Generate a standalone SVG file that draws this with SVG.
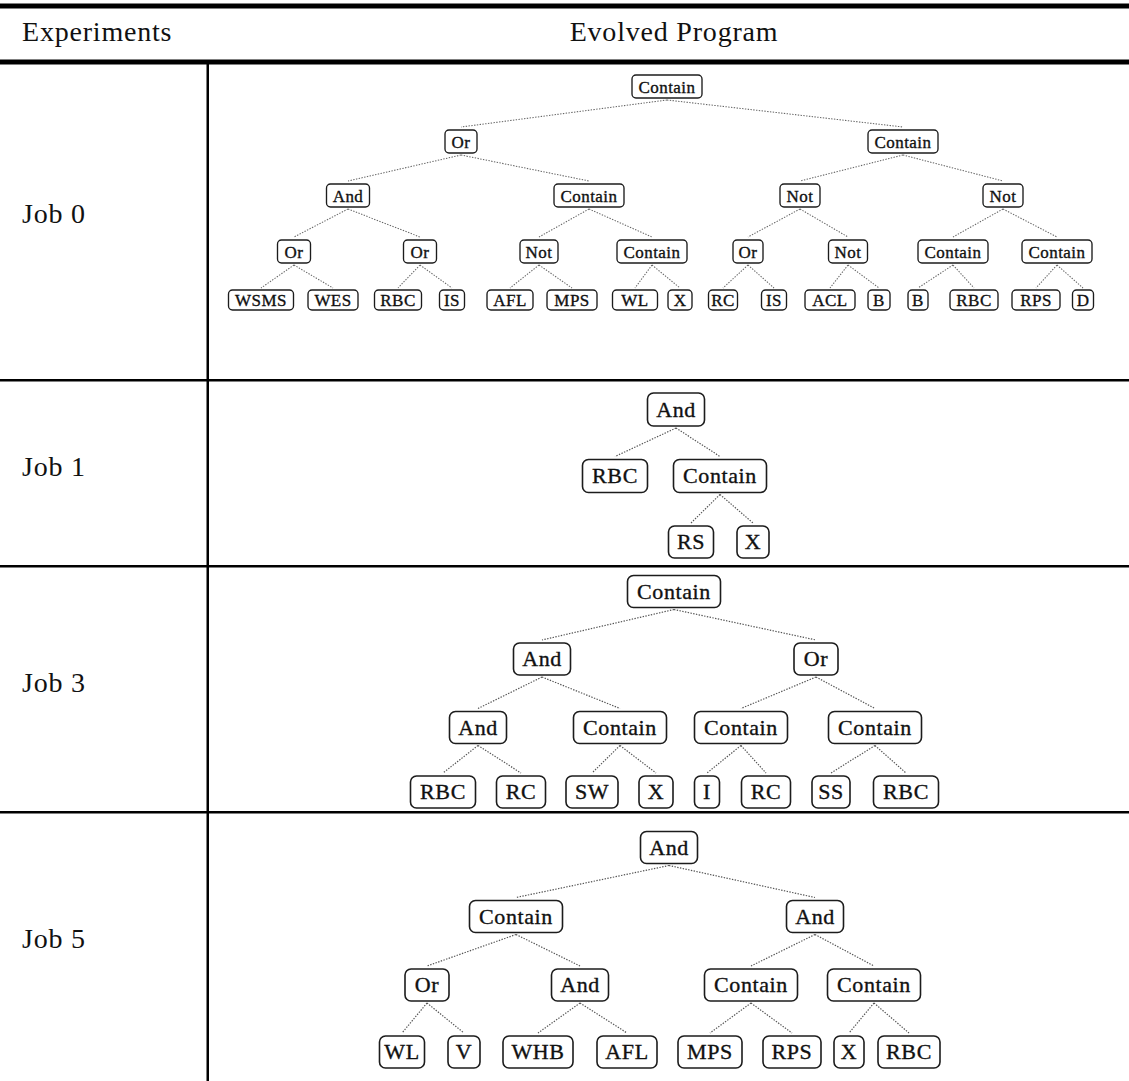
<svg xmlns="http://www.w3.org/2000/svg" width="1129" height="1081" viewBox="0 0 1129 1081">
  <style>
    .bg { fill: #fff; }
    .rule { fill: #000; }
    .hdr { font-family: "Liberation Serif", serif; font-size: 28px; letter-spacing: 0.8px; fill: #111; }
    .n rect { fill: #fff; stroke: #1c1c1c; stroke-width: 1.6; }
    .n text { font-family: "Liberation Serif", serif; text-anchor: middle; fill: #111; stroke: #111; stroke-width: 0.35; }
    .s rect { stroke-width: 1.35; }
    .s text { font-size: 17px; letter-spacing: 0.45px; }
    .b text { font-size: 22px; letter-spacing: 0.6px; }
    .e line { stroke: #555; stroke-width: 1.2; stroke-dasharray: 1.4 1.4; fill: none; }
    .e.s0 line { stroke: #666; stroke-width: 1.05; }
  </style>
  <rect class="bg" x="0" y="0" width="1129" height="1081"/>

  <!-- table rules -->
  <g id="table">
    <rect class="rule" x="0" y="3.5" width="1129" height="5"/>
    <rect class="rule" x="0" y="59.5" width="1129" height="5"/>
    <rect class="rule" x="206.5" y="64" width="2.5" height="1017"/>
    <rect class="rule" x="0" y="379" width="1129" height="2.5"/>
    <rect class="rule" x="0" y="565" width="1129" height="2.5"/>
    <rect class="rule" x="0" y="811" width="1129" height="2.5"/>
  </g>

  <!-- headings and row labels -->
  <g id="labels">
    <text class="hdr" x="22" y="41">Experiments</text>
    <text class="hdr" x="674" y="41" text-anchor="middle">Evolved Program</text>
    <text class="hdr" x="22" y="223">Job 0</text>
    <text class="hdr" x="22" y="476">Job 1</text>
    <text class="hdr" x="22" y="692">Job 3</text>
    <text class="hdr" x="22" y="948">Job 5</text>
  </g>

  <!-- connectors -->
  <g id="connectors">
    <g class="e s0">
      <line x1="667" y1="100" x2="461" y2="127"/>
      <line x1="667" y1="100" x2="903" y2="127"/>
      <line x1="461" y1="155" x2="348" y2="181"/>
      <line x1="461" y1="155" x2="589" y2="181"/>
      <line x1="903" y1="155" x2="800" y2="181"/>
      <line x1="903" y1="155" x2="1003" y2="181"/>
      <line x1="348" y1="209" x2="294" y2="237"/>
      <line x1="348" y1="209" x2="420" y2="237"/>
      <line x1="589" y1="209" x2="539" y2="237"/>
      <line x1="589" y1="209" x2="652" y2="237"/>
      <line x1="800" y1="209" x2="748" y2="237"/>
      <line x1="800" y1="209" x2="848" y2="237"/>
      <line x1="1003" y1="209" x2="953" y2="237"/>
      <line x1="1003" y1="209" x2="1057" y2="237"/>
      <line x1="294" y1="265" x2="261" y2="288"/>
      <line x1="294" y1="265" x2="333" y2="288"/>
      <line x1="420" y1="265" x2="398" y2="288"/>
      <line x1="420" y1="265" x2="452" y2="288"/>
      <line x1="539" y1="265" x2="510" y2="288"/>
      <line x1="539" y1="265" x2="572" y2="288"/>
      <line x1="652" y1="265" x2="635" y2="288"/>
      <line x1="652" y1="265" x2="680" y2="288"/>
      <line x1="748" y1="265" x2="723" y2="288"/>
      <line x1="748" y1="265" x2="774" y2="288"/>
      <line x1="848" y1="265" x2="830" y2="288"/>
      <line x1="848" y1="265" x2="879" y2="288"/>
      <line x1="953" y1="265" x2="918" y2="288"/>
      <line x1="953" y1="265" x2="974" y2="288"/>
      <line x1="1057" y1="265" x2="1036" y2="288"/>
      <line x1="1057" y1="265" x2="1083" y2="288"/>
    </g>
    <g class="e">
      <line x1="676" y1="428" x2="615" y2="456.5"/>
      <line x1="676" y1="428" x2="720" y2="456.5"/>
      <line x1="720" y1="494.5" x2="691" y2="523"/>
      <line x1="720" y1="494.5" x2="753" y2="523"/>

      <line x1="674" y1="609.5" x2="542" y2="640"/>
      <line x1="674" y1="609.5" x2="816" y2="640"/>
      <line x1="542" y1="677" x2="478" y2="708.5"/>
      <line x1="542" y1="677" x2="620" y2="708.5"/>
      <line x1="816" y1="677" x2="741" y2="708.5"/>
      <line x1="816" y1="677" x2="875" y2="708.5"/>
      <line x1="478" y1="745.5" x2="443" y2="773"/>
      <line x1="478" y1="745.5" x2="521" y2="773"/>
      <line x1="620" y1="745.5" x2="592" y2="773"/>
      <line x1="620" y1="745.5" x2="656" y2="773"/>
      <line x1="741" y1="745.5" x2="707" y2="773"/>
      <line x1="741" y1="745.5" x2="766" y2="773"/>
      <line x1="875" y1="745.5" x2="831" y2="773"/>
      <line x1="875" y1="745.5" x2="906" y2="773"/>

      <line x1="669" y1="865.5" x2="516" y2="897.5"/>
      <line x1="669" y1="865.5" x2="815" y2="897.5"/>
      <line x1="516" y1="934.5" x2="427" y2="966"/>
      <line x1="516" y1="934.5" x2="580" y2="966"/>
      <line x1="815" y1="934.5" x2="751" y2="966"/>
      <line x1="815" y1="934.5" x2="874" y2="966"/>
      <line x1="427" y1="1003" x2="402" y2="1033"/>
      <line x1="427" y1="1003" x2="464" y2="1033"/>
      <line x1="580" y1="1003" x2="538" y2="1033"/>
      <line x1="580" y1="1003" x2="627" y2="1033"/>
      <line x1="751" y1="1003" x2="710" y2="1033"/>
      <line x1="751" y1="1003" x2="792" y2="1033"/>
      <line x1="874" y1="1003" x2="849" y2="1033"/>
      <line x1="874" y1="1003" x2="909" y2="1033"/>
    </g>
  </g>

  <!-- Job 0 tree -->
  <g id="job0">
    <g id="j0-contain-root" class="n s"><rect x="632" y="75" width="70" height="23" rx="4"/><text x="667" y="92.5">Contain</text></g>
    <g id="j0-or-1" class="n s"><rect x="445" y="130" width="32" height="23" rx="4"/><text x="461" y="147.5">Or</text></g>
    <g id="j0-contain-1" class="n s"><rect x="868" y="130" width="70" height="23" rx="4"/><text x="903" y="147.5">Contain</text></g>
    <g id="j0-and-2" class="n s"><rect x="326.5" y="184" width="43" height="23" rx="4"/><text x="348" y="201.5">And</text></g>
    <g id="j0-contain-2" class="n s"><rect x="554" y="184" width="70" height="23" rx="4"/><text x="589" y="201.5">Contain</text></g>
    <g id="j0-not-2a" class="n s"><rect x="780" y="184" width="40" height="23" rx="4"/><text x="800" y="201.5">Not</text></g>
    <g id="j0-not-2b" class="n s"><rect x="983" y="184" width="40" height="23" rx="4"/><text x="1003" y="201.5">Not</text></g>
    <g id="j0-or-3a" class="n s"><rect x="277.5" y="240" width="33" height="23" rx="4"/><text x="294" y="257.5">Or</text></g>
    <g id="j0-or-3b" class="n s"><rect x="403.5" y="240" width="33" height="23" rx="4"/><text x="420" y="257.5">Or</text></g>
    <g id="j0-not-3a" class="n s"><rect x="520" y="240" width="38" height="23" rx="4"/><text x="539" y="257.5">Not</text></g>
    <g id="j0-contain-3a" class="n s"><rect x="617" y="240" width="70" height="23" rx="4"/><text x="652" y="257.5">Contain</text></g>
    <g id="j0-or-3c" class="n s"><rect x="733" y="240" width="30" height="23" rx="4"/><text x="748" y="257.5">Or</text></g>
    <g id="j0-not-3b" class="n s"><rect x="828.5" y="240" width="39" height="23" rx="4"/><text x="848" y="257.5">Not</text></g>
    <g id="j0-contain-3b" class="n s"><rect x="918" y="240" width="70" height="23" rx="4"/><text x="953" y="257.5">Contain</text></g>
    <g id="j0-contain-3c" class="n s"><rect x="1022" y="240" width="70" height="23" rx="4"/><text x="1057" y="257.5">Contain</text></g>
    <g id="j0-wsms" class="n s"><rect x="228.5" y="290" width="65" height="20" rx="4"/><text x="261" y="305.5">WSMS</text></g>
    <g id="j0-wes" class="n s"><rect x="308" y="290" width="50" height="20" rx="4"/><text x="333" y="305.5">WES</text></g>
    <g id="j0-rbc-a" class="n s"><rect x="374.5" y="290" width="47" height="20" rx="4"/><text x="398" y="305.5">RBC</text></g>
    <g id="j0-is-a" class="n s"><rect x="439.5" y="290" width="25" height="20" rx="4"/><text x="452" y="305.5">IS</text></g>
    <g id="j0-afl" class="n s"><rect x="487" y="290" width="46" height="20" rx="4"/><text x="510" y="305.5">AFL</text></g>
    <g id="j0-mps" class="n s"><rect x="547" y="290" width="50" height="20" rx="4"/><text x="572" y="305.5">MPS</text></g>
    <g id="j0-wl" class="n s"><rect x="612.5" y="290" width="45" height="20" rx="4"/><text x="635" y="305.5">WL</text></g>
    <g id="j0-x" class="n s"><rect x="668" y="290" width="24" height="20" rx="4"/><text x="680" y="305.5">X</text></g>
    <g id="j0-rc" class="n s"><rect x="708.5" y="290" width="29" height="20" rx="4"/><text x="723" y="305.5">RC</text></g>
    <g id="j0-is-b" class="n s"><rect x="761.5" y="290" width="25" height="20" rx="4"/><text x="774" y="305.5">IS</text></g>
    <g id="j0-acl" class="n s"><rect x="805" y="290" width="50" height="20" rx="4"/><text x="830" y="305.5">ACL</text></g>
    <g id="j0-b-a" class="n s"><rect x="868" y="290" width="22" height="20" rx="4"/><text x="879" y="305.5">B</text></g>
    <g id="j0-b-b" class="n s"><rect x="908" y="290" width="20" height="20" rx="4"/><text x="918" y="305.5">B</text></g>
    <g id="j0-rbc-b" class="n s"><rect x="950" y="290" width="48" height="20" rx="4"/><text x="974" y="305.5">RBC</text></g>
    <g id="j0-rps" class="n s"><rect x="1012" y="290" width="48" height="20" rx="4"/><text x="1036" y="305.5">RPS</text></g>
    <g id="j0-d" class="n s"><rect x="1072.5" y="290" width="21" height="20" rx="4"/><text x="1083" y="305.5">D</text></g>
  </g>

  <!-- Job 1 tree -->
  <g id="job1">
    <g id="j1-and" class="n b"><rect x="647.5" y="393" width="57" height="33" rx="6"/><text x="676" y="416.8">And</text></g>
    <g id="j1-rbc" class="n b"><rect x="582.5" y="459.5" width="65" height="33" rx="6"/><text x="615" y="483.3">RBC</text></g>
    <g id="j1-contain" class="n b"><rect x="673.5" y="459.5" width="93" height="33" rx="6"/><text x="720" y="483.3">Contain</text></g>
    <g id="j1-rs" class="n b"><rect x="668.5" y="526" width="45" height="32" rx="6"/><text x="691" y="549.3">RS</text></g>
    <g id="j1-x" class="n b"><rect x="737" y="526" width="32" height="32" rx="6"/><text x="753" y="549.3">X</text></g>
  </g>

  <!-- Job 3 tree -->
  <g id="job3">
    <g id="j3-contain-root" class="n b"><rect x="627.5" y="575.5" width="93" height="32" rx="6"/><text x="674" y="598.8">Contain</text></g>
    <g id="j3-and-1" class="n b"><rect x="513.5" y="643" width="57" height="32" rx="6"/><text x="542" y="666.3">And</text></g>
    <g id="j3-or-1" class="n b"><rect x="794" y="643" width="44" height="32" rx="6"/><text x="816" y="666.3">Or</text></g>
    <g id="j3-and-2" class="n b"><rect x="449.5" y="711.5" width="57" height="32" rx="6"/><text x="478" y="734.8">And</text></g>
    <g id="j3-contain-2a" class="n b"><rect x="573.5" y="711.5" width="93" height="32" rx="6"/><text x="620" y="734.8">Contain</text></g>
    <g id="j3-contain-2b" class="n b"><rect x="694.5" y="711.5" width="93" height="32" rx="6"/><text x="741" y="734.8">Contain</text></g>
    <g id="j3-contain-2c" class="n b"><rect x="828.5" y="711.5" width="93" height="32" rx="6"/><text x="875" y="734.8">Contain</text></g>
    <g id="j3-rbc-a" class="n b"><rect x="410.5" y="776" width="65" height="32" rx="6"/><text x="443" y="799.3">RBC</text></g>
    <g id="j3-rc-a" class="n b"><rect x="496.5" y="776" width="49" height="32" rx="6"/><text x="521" y="799.3">RC</text></g>
    <g id="j3-sw" class="n b"><rect x="566" y="776" width="52" height="32" rx="6"/><text x="592" y="799.3">SW</text></g>
    <g id="j3-x" class="n b"><rect x="639" y="776" width="34" height="32" rx="6"/><text x="656" y="799.3">X</text></g>
    <g id="j3-i" class="n b"><rect x="694.5" y="776" width="25" height="32" rx="6"/><text x="707" y="799.3">I</text></g>
    <g id="j3-rc-b" class="n b"><rect x="741.5" y="776" width="49" height="32" rx="6"/><text x="766" y="799.3">RC</text></g>
    <g id="j3-ss" class="n b"><rect x="812" y="776" width="38" height="32" rx="6"/><text x="831" y="799.3">SS</text></g>
    <g id="j3-rbc-b" class="n b"><rect x="873.5" y="776" width="65" height="32" rx="6"/><text x="906" y="799.3">RBC</text></g>
  </g>

  <!-- Job 5 tree -->
  <g id="job5">
    <g id="j5-and-root" class="n b"><rect x="640.5" y="831.5" width="57" height="32" rx="6"/><text x="669" y="854.8">And</text></g>
    <g id="j5-contain-1" class="n b"><rect x="469.5" y="900.5" width="93" height="32" rx="6"/><text x="516" y="923.8">Contain</text></g>
    <g id="j5-and-1" class="n b"><rect x="786.5" y="900.5" width="57" height="32" rx="6"/><text x="815" y="923.8">And</text></g>
    <g id="j5-or-2" class="n b"><rect x="405" y="969" width="44" height="32" rx="6"/><text x="427" y="992.3">Or</text></g>
    <g id="j5-and-2" class="n b"><rect x="551.5" y="969" width="57" height="32" rx="6"/><text x="580" y="992.3">And</text></g>
    <g id="j5-contain-2a" class="n b"><rect x="704.5" y="969" width="93" height="32" rx="6"/><text x="751" y="992.3">Contain</text></g>
    <g id="j5-contain-2b" class="n b"><rect x="827.5" y="969" width="93" height="32" rx="6"/><text x="874" y="992.3">Contain</text></g>
    <g id="j5-wl" class="n b"><rect x="379.5" y="1036" width="45" height="32" rx="6"/><text x="402" y="1059.3">WL</text></g>
    <g id="j5-v" class="n b"><rect x="448" y="1036" width="32" height="32" rx="6"/><text x="464" y="1059.3">V</text></g>
    <g id="j5-whb" class="n b"><rect x="503" y="1036" width="70" height="32" rx="6"/><text x="538" y="1059.3">WHB</text></g>
    <g id="j5-afl" class="n b"><rect x="597" y="1036" width="60" height="32" rx="6"/><text x="627" y="1059.3">AFL</text></g>
    <g id="j5-mps" class="n b"><rect x="678" y="1036" width="64" height="32" rx="6"/><text x="710" y="1059.3">MPS</text></g>
    <g id="j5-rps" class="n b"><rect x="763" y="1036" width="58" height="32" rx="6"/><text x="792" y="1059.3">RPS</text></g>
    <g id="j5-x" class="n b"><rect x="834" y="1036" width="30" height="32" rx="6"/><text x="849" y="1059.3">X</text></g>
    <g id="j5-rbc" class="n b"><rect x="878" y="1036" width="62" height="32" rx="6"/><text x="909" y="1059.3">RBC</text></g>
  </g>
</svg>
